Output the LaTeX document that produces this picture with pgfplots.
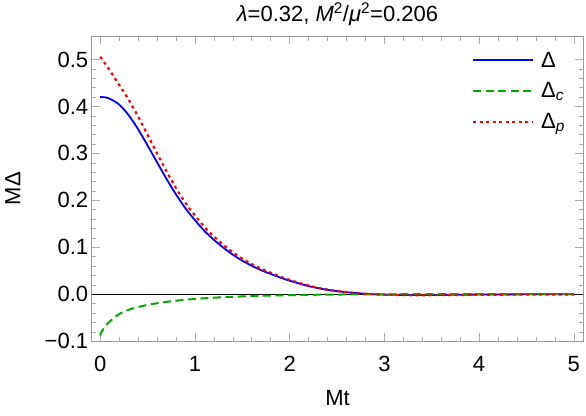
\documentclass[border=0pt]{standalone}
\usepackage{fontspec}
\setmainfont{Liberation Sans}
\usepackage{pgfplots}
\pgfplotsset{compat=1.18}

\definecolor{gapblue}{rgb}{0,0,1}
\definecolor{gapgreen}{rgb}{0,0.667,0}
\definecolor{gapred}{rgb}{1,0,0}
\definecolor{framegray}{gray}{0.6}
\definecolor{tickgray}{gray}{0.68}

\newcommand{\bigfont}{\fontsize{22}{26}\selectfont}

\begin{document}
\begin{tikzpicture}
\begin{axis}[
  scale only axis,
  width=491.6pt, height=305.3pt,
  xmin=-0.09, xmax=5.1,
  ymin=-0.1, ymax=0.55,
  axis line style={framegray, line width=0.8pt},
  tick align=inside,
  xtick pos=both, ytick pos=both,
  xticklabel pos=lower, yticklabel pos=left,
  xtick={0,1,2,3,4,5},
  ytick={-0.1,0,0.1,0.2,0.3,0.4,0.5},
  yticklabels={−0.1,0.0,0.1,0.2,0.3,0.4,0.5},
  minor x tick num=4, minor y tick num=4,
  major tick length=8pt, minor tick length=4.5pt,
  every tick/.style={tickgray, line width=0.6pt},
  every tick label/.append style={font=\bigfont, black},
  xticklabel style={anchor=base, yshift=-30pt},
  /pgf/number format/assume math mode=true,
  title={\textit{λ}=0.32, \textit{M}\textsuperscript{2}/\textit{μ}\textsuperscript{2}=0.206},
  title style={font=\bigfont, at={(axis description cs:0.5,1)}, anchor=base, yshift=9pt},
  xlabel={Mt},
  xlabel style={font=\bigfont, at={(axis description cs:0.5,0)}, anchor=base, yshift=-64pt},
  ylabel={MΔ},
  ylabel style={font=\bigfont, at={(axis description cs:-0.1607,0.5)}, anchor=center},
  legend style={draw=none, fill=none, font=\bigfont,
    at={(axis description cs:0.7736,0.9545)}, anchor=north west,
    row sep=10pt, column sep=5pt, inner sep=0pt},
  legend cell align=left,
  legend image code/.code={\draw[#1, line width=1.9pt] (0pt,0pt) -- (60pt,0pt);},
]
% zero line
\addplot[black, line width=0.6pt, forget plot] coordinates {(-0.09,0) (5.1,0)};

% total gap
\addplot[gapblue, line width=1.8pt, smooth] coordinates {
 (0,0.420) (0.05,0.4195) (0.1,0.4165) (0.2,0.404) (0.3,0.3815) (0.4,0.3515)
 (0.5,0.317) (0.6,0.2812) (0.7,0.2458) (0.8,0.2128) (0.9,0.1830) (1.0,0.1580)
 (1.1,0.1350) (1.2,0.1160) (1.3,0.0995) (1.4,0.0845) (1.5,0.0717) (1.6,0.0607)
 (1.7,0.0514) (1.8,0.0434) (1.9,0.0357) (2.0,0.0290) (2.2,0.0175) (2.4,0.0095)
 (2.6,0.0045) (2.8,0.0012) (3.0,-0.0006) (3.3,-0.0015) (3.6,-0.0012)
 (4.0,-0.0005) (4.5,0.0) (5.0,0.0)
};
\addlegendentry{Δ}

% condensate part
\addplot[gapgreen, line width=2pt, dash pattern=on 8pt off 4.5pt, smooth] coordinates {
 (0,-0.088) (0.01,-0.082) (0.02,-0.078) (0.035,-0.073) (0.05,-0.068)
 (0.1,-0.058) (0.2,-0.042) (0.3,-0.033) (0.4,-0.027) (0.5,-0.0225)
 (0.6,-0.019) (0.7,-0.016) (0.8,-0.0135) (0.9,-0.0115) (1.0,-0.0098)
 (1.1,-0.0084) (1.2,-0.0072) (1.3,-0.0061) (1.4,-0.0052) (1.5,-0.0044)
 (1.6,-0.0037) (1.8,-0.0026) (2.0,-0.0017) (2.2,-0.0011) (2.4,-0.0006)
 (2.6,-0.0003) (2.8,-0.0001) (3.0,0.0001) (3.3,0.0003) (3.6,0.0004)
 (4.0,0.0005) (4.5,0.0005) (5.0,0.0004)
};
\addlegendentry{Δ\textsubscript{\textit{c}}}

% pair part
\addplot[gapred, line width=2.2pt, dash pattern=on 3pt off 3.5pt, smooth] coordinates {
 (0,0.506) (0.05,0.492) (0.1,0.477) (0.2,0.446) (0.3,0.4145) (0.4,0.3785)
 (0.5,0.3395) (0.6,0.3002) (0.7,0.2618) (0.8,0.2263) (0.9,0.1945) (1.0,0.1678)
 (1.1,0.1434) (1.2,0.1232) (1.3,0.1056) (1.4,0.0897) (1.5,0.0761) (1.6,0.0644)
 (1.7,0.0545) (1.8,0.0460) (1.9,0.0378) (2.0,0.0307) (2.2,0.0186) (2.4,0.0101)
 (2.6,0.0048) (2.8,0.0013) (3.0,-0.0007) (3.3,-0.0018) (3.6,-0.0016)
 (4.0,-0.0010) (4.5,-0.0005) (5.0,-0.0004)
};
\addlegendentry{Δ\textsubscript{\textit{p}}}
\end{axis}
\pgfresetboundingbox
\useasboundingbox (-91.7pt,-73.7pt) rectangle (494.3pt,341.3pt);
\end{tikzpicture}
\end{document}
